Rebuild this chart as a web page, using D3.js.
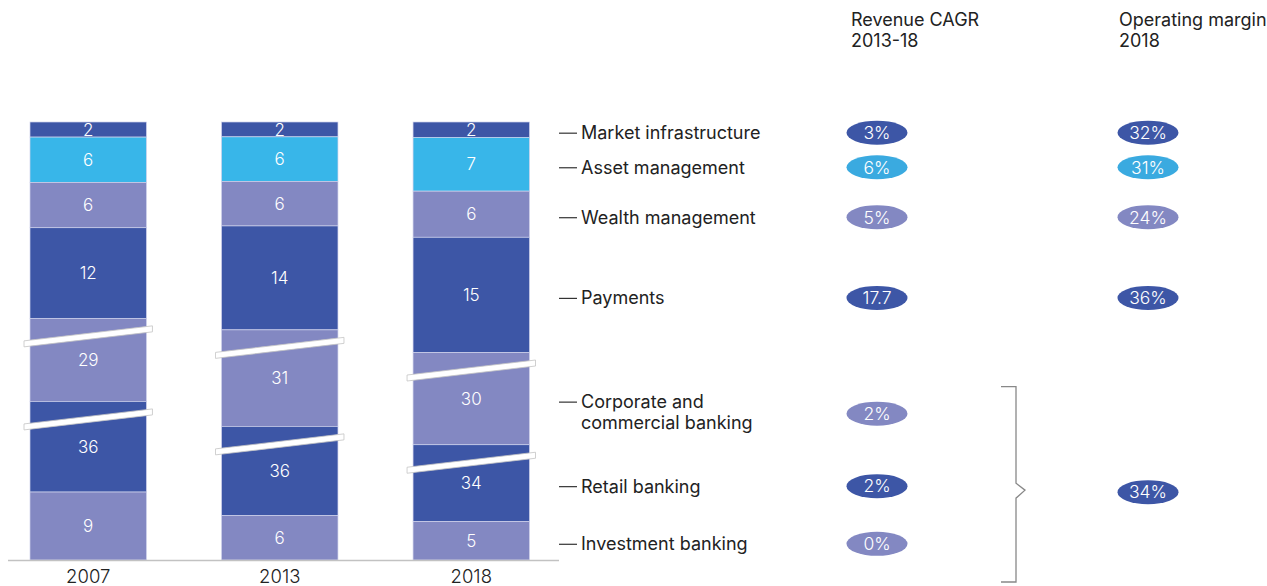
<!DOCTYPE html>
<html>
<head>
<meta charset="utf-8">
<script src="https://cdn.jsdelivr.net/npm/d3@7"></script>
<style>
  body { margin: 0; background: #fff; }
  svg { font-family: Inter, "Liberation Sans", Arial, sans-serif; }
</style>
</head>
<body>
<div id="chart"></div>
<script>
// segments listed top to bottom
const segments = ["Market infrastructure", "Asset management", "Wealth management", "Payments",
  "Corporate and commercial banking", "Retail banking", "Investment banking"];
const legendLines = [["Market infrastructure"], ["Asset management"], ["Wealth management"], ["Payments"],
  ["Corporate and", "commercial banking"], ["Retail banking"], ["Investment banking"]];
const years = ["2007", "2013", "2018"];
const revenue2007 = [2, 6, 6, 12, 29, 36, 9];
const revenue2013 = [2, 6, 6, 14, 31, 36, 6];
const revenue2018 = [2, 7, 6, 15, 30, 34, 5];
// part of the segment hidden by the axis break
const breakCut = [0, 0, 0, 0, 18, 24, 0];
const cagr = ["3%", "6%", "5%", "17.7", "2%", "2%", "0%"];
const margin = ["32%", "31%", "24%", "36%"];
const bankingMargin = "34%";

const dark = "#3D56A6", purple = "#8388C2", cyan = "#38B6E9", pillCyan = "#3AAAE0";
const segColor = [dark, cyan, purple, dark, purple, dark, purple];
const pillColor = [dark, pillCyan, purple, dark, purple, dark, purple];

const W = 1267, H = 586;
const barTop = 122, base = 560;

const svg = d3.select("#chart").append("svg")
  .attr("width", W)
  .attr("height", H);

const x = d3.scaleBand().domain(years).range([30, 529.5]).paddingInner(0.392);

const allValues = [revenue2007, revenue2013, revenue2018];

// build stacks from the bottom segment up
const bars = years.map((yr, bi) => {
  const vals = allValues[bi];
  const shown = vals.map((v, i) => v - breakCut[i]);
  const total = d3.sum(shown);
  const y = d3.scaleLinear().domain([0, total]).range([base, barTop]);
  let acc = 0;
  const segs = [];
  for (let i = segments.length - 1; i >= 0; i--) {
    segs.push({ i, value: vals[i], y0: y(acc + shown[i]), y1: y(acc) });
    acc += shown[i];
  }
  return { year: yr, segs: segs.reverse() };
});

const barG = svg.selectAll("g.bar")
  .data(bars)
  .enter().append("g")
  .attr("class", "bar")
  .attr("transform", d => `translate(${x(d.year)},0)`);

barG.selectAll("rect")
  .data(d => d.segs)
  .enter().append("rect")
  .attr("x", 0)
  .attr("width", x.bandwidth())
  .attr("y", d => d.y0)
  .attr("height", d => d.y1 - d.y0)
  .style("fill", d => segColor[d.i])
  .style("stroke", "#cfd2ec")
  .style("stroke-width", 0.7);

// axis break slashes
barG.selectAll("path.brk")
  .data(d => d.segs.filter(s => breakCut[s.i] > 0))
  .enter().append("path")
  .attr("class", "brk")
  .attr("d", d => {
    const yc = d.y0 + 18, x0 = -6, x1 = x.bandwidth() + 6, h = 7.5, t = 3;
    return `M${x0},${yc + h - t}L${x1},${yc - h - t}L${x1},${yc - h + t}L${x0},${yc + h + t}Z`;
  })
  .style("fill", "#fff")
  .style("stroke", "#c4c4c4")
  .style("stroke-width", 0.8);

barG.selectAll("text.val")
  .data(d => d.segs)
  .enter().append("text")
  .attr("class", "val")
  .attr("x", x.bandwidth() / 2)
  .attr("y", d => (d.y0 + d.y1) / 2)
  .attr("dy", "0.36em")
  .style("text-anchor", "middle")
  .style("fill", "#fff")
  .style("font-size", "17px")
  .style("font-weight", 300)
  .text(d => d.value);

// baseline
svg.append("line")
  .attr("x1", 8).attr("x2", 559)
  .attr("y1", base + 0.5).attr("y2", base + 0.5)
  .style("stroke", "#c2c2c2")
  .style("stroke-width", 1.5);

svg.append("g")
  .selectAll("text")
  .data(years)
  .enter().append("text")
  .attr("x", d => x(d) + x.bandwidth() / 2)
  .attr("y", 583)
  .style("text-anchor", "middle")
  .style("fill", "#222")
  .style("font-size", "18.5px")
  .style("font-weight", 300)
  .text(d => d);

// legend rows follow the 2018 segments
const last = bars[bars.length - 1].segs;
const rowY = last.map(s => (s.y0 + s.y1) / 2 + 3);

const legend = svg.append("g");
legend.selectAll("line")
  .data(segments)
  .enter().append("line")
  .attr("x1", 559).attr("x2", 577)
  .attr("y1", (d, i) => rowY[i] + 0.5).attr("y2", (d, i) => rowY[i] + 0.5)
  .style("stroke", "#333")
  .style("stroke-width", 1.2);

legend.selectAll("text")
  .data(legendLines)
  .enter().append("text")
  .attr("x", 581)
  .attr("y", (d, i) => rowY[i])
  .style("fill", "#222")
  .style("font-size", "18px")
  .selectAll("tspan")
  .data(d => d)
  .enter().append("tspan")
  .attr("x", 581)
  .attr("dy", (d, j) => j === 0 ? "0.36em" : "1.17em")
  .text(d => d);

// column headers
const headers = [{ x: 851, lines: ["Revenue CAGR", "2013-18"] }, { x: 1119, lines: ["Operating margin", "2018"] }];
svg.selectAll("text.hdr")
  .data(headers)
  .enter().append("text")
  .attr("class", "hdr")
  .attr("y", 26)
  .style("fill", "#222")
  .style("font-size", "18px")
  .selectAll("tspan")
  .data(d => d.lines.map(l => ({ x: d.x, l })))
  .enter().append("tspan")
  .attr("x", d => d.x)
  .attr("dy", (d, j) => j === 0 ? 0 : "1.17em")
  .text(d => d.l);

const pillY = rowY.map((y, i) => legendLines[i].length > 1 ? y + 12 : y);

function pill(g, cx, cy, color, label) {
  g.append("ellipse")
    .attr("cx", cx).attr("cy", cy)
    .attr("rx", 30.5).attr("ry", 12)
    .style("fill", color);
  g.append("text")
    .attr("x", cx).attr("y", cy)
    .attr("dy", "0.36em")
    .style("text-anchor", "middle")
    .style("fill", "#fff")
    .style("font-size", "17.5px")
    .style("font-weight", 300)
    .text(label);
}

const pills = svg.append("g");
cagr.forEach((c, i) => pill(pills, 877, pillY[i], pillColor[i], c));
margin.forEach((m, i) => pill(pills, 1148, pillY[i], pillColor[i], m));

// bracket around the banking rows
const bTop = rowY[4] - 15, bBot = 582, bMid = rowY[5] + 4, bx = 1016;
svg.append("path")
  .attr("d", `M1001,${bTop}H${bx}V${bMid - 7}L${bx + 9},${bMid}L${bx},${bMid + 8}V${bBot}H1001`)
  .style("fill", "none")
  .style("stroke", "#888")
  .style("stroke-width", 1.3);

pill(pills, 1148, bMid + 2, dark, bankingMargin);
</script>
</body>
</html>
